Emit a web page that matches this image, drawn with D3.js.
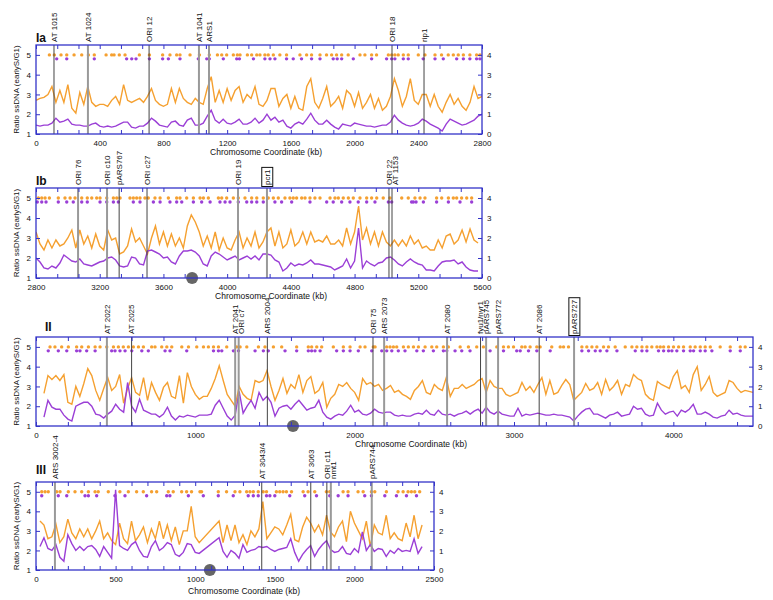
<!DOCTYPE html>
<html>
<head>
<meta charset="utf-8">
<script src="https://cdn.jsdelivr.net/npm/d3@7"></script>
<style>
  body { margin: 0; background: #fff; }
  text { font-family: "Liberation Sans", Arial, sans-serif; fill: #111; }
</style>
</head>
<body>
<svg id="chart" width="773" height="600"></svg>
<script>
// ---- data (kb coordinates, ratio values) ----
// traces are sampled every 25 kb, starting at the given kb; null = no data
const stepKb = 25;

const iaStart = 0;
const iaOrange = [
  2.7, 2.8, 2.85, 3.0, 3.4, 2.6, 3.2, 2.6,      // 0
  3.5, 2.3, 2.05, 3.1, 2.5, 3.4, 2.6, 2.4,      // 200
  2.5, 2.5, 2.4, 2.7, 2.9, 2.5, 3.5, 2.7,       // 400
  2.6, 2.7, 2.8, 2.6, 2.9, 3.3, 2.7, 2.5,       // 600
  2.4, 2.5, 3.3, 2.6, 3.3, 2.8, 2.6, 2.5,       // 800
  2.8, 2.6, 2.5, 3.3, 3.9, 2.6, 3.2, 2.6,       // 1000
  3.3, 2.7, 3.2, 3.4, 2.6, 3.0, 2.8, 3.4,       // 1200
  2.5, 2.4, 2.7, 3.3, 3.3, 2.4, 2.8, 3.0,       // 1400
  2.3, 2.9, 2.3, 2.2, 3.4, 3.8, 2.6, 2.3,       // 1600
  2.8, 3.4, 2.4, 2.6, 2.9, 2.3, 3.2, 3.0,       // 1800
  2.4, 3.1, 2.3, 2.6, 3.0, 2.3, 2.8, 2.2,       // 2000
  2.4, 2.9, 3.8, 3.2, 2.4, 2.9, 3.8, 2.7,       // 2200
  2.5, 3.0, 3.0, 2.4, 3.0, 2.4, 2.1, 2.6,       // 2400
  3.0, 2.5, 2.8, 2.4, 2.2, 2.6, 3.4, 2.8,       // 2600
  2.9
];
const iaPurple = [
  1.45, 1.4, 1.45, 1.45, 1.55, 1.8, 1.6, 1.65,
  1.75, 1.5, 1.45, 1.45, 1.4, 1.4, 1.5, 1.55,
  1.4, 1.35, 1.4, 1.35, 1.4, 1.5, 1.6, 1.6,
  1.35, 1.3, 1.4, 1.4, 1.55, 1.8, 1.65, 1.45,
  1.4, 1.35, 1.6, 1.65, 1.45, 1.4, 1.7, 1.8,
  1.45, 1.45, 1.55, 1.9, 2.2, 1.7, 1.55, 1.75,
  1.55, 1.5, 1.6, 1.75, 1.5, 1.5, 1.6, 1.8,
  1.55, 1.7, 2.0, 1.7, 1.85, 1.6, 1.7, 1.4,
  1.3, 1.5, 1.6, 1.5, 1.75, 2.05, 1.7, 1.5,
  1.5, 1.7, 1.5, 1.35, 1.25, 1.5, 1.45, 1.4,
  1.55, 1.5, 1.45, 1.4, 1.4, 1.35, 1.4, 1.45,
  1.45, 1.6, 1.95, 1.7, 1.55, 1.45, 1.4, 1.45,
  1.55, 1.75, 1.65, 1.5, 1.4, 1.3, 1.15, 1.5,
  1.75, 1.65, 1.55, 1.45, 1.5, 1.6, 1.7, 1.9,
  2.0
];

const ibStart = 2800;
const ibOrange = [
  3.3, 2.7, 2.4, 2.9, 2.5, 2.9, 2.6, 2.7,       // 2800
  3.0, 3.4, 2.5, 3.4, 2.7, 3.1, 2.5, 3.2,       // 3000
  2.6, 2.4, 3.4, 2.9, 3.0, 2.2, 2.3, 2.6,       // 3200
  3.45, 2.8, 3.0, 2.6, 2.2, 3.0, 3.6, 2.7,      // 3400
  3.3, 2.6, 3.2, 2.6, 3.0, 2.5, 3.6, 4.15,      // 3600
  3.8, 3.3, 2.6, 3.1, 2.5, 3.3, 2.4, 3.0,       // 3800
  2.5, 2.4, 2.9, 3.3, 2.5, 3.0, 2.6, 3.3,       // 4000
  2.5, 2.8, 3.3, 3.5, 2.6, 3.3, 2.5, 2.7,       // 4200
  3.4, 2.6, 2.8, 3.3, 2.7, 3.3, 2.8, 2.9,       // 4400
  2.8, 3.1, 2.7, 2.7, 2.9, 2.6, 3.5, 2.7,       // 4600
  3.3, 4.6, 2.9, 3.5, 2.7, 3.3, 2.6, 3.3,       // 4800
  2.8, 2.6, 2.9, 2.6, 2.9, 2.6, 3.1, 2.7,       // 5000
  2.9, 2.5, 2.6, 2.4, 2.4, 2.9, 2.5, 3.1,       // 5200
  3.2, 2.7, 2.9, 3.4, 2.8, 3.45, 2.9, 2.75      // 5400
];
const ibPurple = [
  2.0, 1.8, 1.5, 1.45, 1.6, 1.5, 1.75, 2.15,
  2.0, 1.85, 1.8, 1.95, 1.7, 1.65, 1.6, 1.7,
  1.8, 1.85, 2.0, 2.05, 1.9, 1.6, 1.55, 1.6,
  2.05, 2.0, 1.7, 1.65, 2.35, 2.4, 2.3, 2.2,
  2.0, 2.05, 1.8, 1.7, 2.1, 2.35, 2.35, 2.4,
  2.3, 2.1, 1.7, 1.6, 2.1, 2.3, 2.2, 2.05,
  1.9, 2.0, 2.1, 1.9, 2.0, 2.1, 1.95, 2.1,
  1.9, 2.2, 2.2, 2.15, 1.9, 1.8, 1.35, 1.5,
  1.75, 1.6, 1.7, 1.65, 1.75, 1.9, 1.7, 1.7,
  1.65, 1.6, 1.55, 1.4, 1.5, 1.6, 1.95, 1.5,
  1.85, 3.5, 1.5, 1.85, 1.7, 1.6, 1.75, 1.8,
  2.0, 2.05, 1.9, 1.7, 1.6, 1.8, 1.95, 1.8,
  1.7, 1.65, 1.4, 1.4, 1.35, 1.6, 1.8, 1.85,
  1.85, 1.9, 1.7, 1.8, 1.55, 1.4, 1.35, 1.35
];

const iiStart = 50;
const iiOrange = [
  2.65, 3.55, 3.35, 3.55, 3.3, 3.6, 2.2, 2.1,   // 50
  3.0, 2.5, 3.15, 3.9, 3.55, 2.8, 2.3, 2.9,     // 250
  3.45, 2.8, 3.0, 3.6, 2.15, 2.9, 3.45, 2.7,    // 450
  2.55, 3.45, 2.3, 3.2, 2.7, 2.3, 2.95, 3.2,    // 650
  2.5, 2.4, 3.55, 2.15, 3.7, 3.0, 2.6, 2.35,    // 850
  2.5, 2.5, 2.9, 3.4, 4.05, 3.3, 2.6, 2.3,      // 1050
  2.0, 3.0, 2.6, 2.4, 2.3, 3.3, 3.2, 3.3,       // 1250
  3.8, 3.0, 2.3, 2.8, 3.4, 2.65, 3.1, 2.9,      // 1450
  3.6, 2.7, 3.3, 3.5, 2.65, 2.8, 3.2, 1.95,     // 1650
  2.4, 2.6, 3.1, 3.0, 3.2, 2.9, 2.7, 2.3,       // 1850
  3.4, 3.1, 3.2, 3.0, 3.1, 2.8, 2.9, 3.05,      // 2050
  2.7, 2.8, 2.6, 2.5, 2.35, 2.8, 3.0, 3.3,      // 2250
  2.7, 2.6, 3.1, 2.9, 2.8, 3.45, 2.5, 2.9,      // 2450
  2.9, 3.1, 2.9, 3.0, 3.1, 3.3, 3.4, 2.7,       // 2650
  3.3, 3.0, 2.9, 2.9, 2.6, 2.5, 2.6, 2.7,       // 2850
  3.2, 2.8, 3.0, 2.7, 3.1, 3.45, 2.6, 3.3,      // 3050
  2.6, 2.7, 3.05, 3.35, 3.1, 2.3, 2.5, 2.7,     // 3250
  3.15, 2.8, 2.9, 3.2, 2.6, 3.35, 2.8, 3.0,     // 3450
  3.3, 2.6, 3.1, 3.0, 3.6, 3.4, 3.3, 2.6,       // 3650
  2.4, 2.3, 3.25, 3.1, 3.0, 2.9, 3.5, 3.8,      // 3850
  2.9, 3.05, 2.7, 3.6, 4.0, 2.8, 3.1, 3.5,      // 4050
  2.7, 2.5, 2.6, 2.7, 3.3, 3.2, 2.9, 2.7,       // 4250
  2.8, 2.75, 2.7                                // 4450
];
const iiPurple = [
  1.45, 2.3, 1.95, 1.85, 1.85, 1.55, 1.35, 1.25,
  2.0, 2.1, 2.2, 2.2, 2.0, 1.6, 1.55, 1.4,
  1.6, 1.75, 2.1, 1.85, 1.7, 3.2, 2.0, 1.7,
  2.35, 1.8, 1.7, 1.6, 1.6, 1.45, 1.6, 1.95,
  1.5, 1.3, 1.5, 1.45, 1.55, 1.5, 1.45, 1.55,
  1.55, 1.55, 1.6, 2.05, 2.3, 1.9, 1.5, 1.3,
  1.55, 2.75, 1.65, 2.0, 2.3, 1.9, 2.7, 2.3,
  2.5, 2.2, 1.5, 1.9, 2.0, 2.05, 1.85, 2.1,
  2.3, 2.05, 1.8, 1.9, 1.95, 2.3, 1.7, 1.45,
  1.35, 1.5, 1.6, 1.55, 1.75, 2.05, 1.7, 1.8,
  1.6, 1.55, 1.65, 1.85, 1.7, 1.65, 1.7, 1.7,
  1.55, 1.5, 1.55, 1.5, 1.5, 1.6, 1.65, 1.6,
  1.8, 1.6, 1.55, 1.8, 1.6, 1.55, 1.6, 1.5,
  1.6, 1.65, 1.75, 1.6, 1.75, 1.85, 1.65, 1.95,
  1.7, 1.6, 1.75, 1.6, 1.55, 1.5, 1.5, 1.9,
  1.5, 1.6, 1.55, 1.6, 1.65, 1.6, 1.55, 1.55,
  1.6, 1.55, 1.55, 1.5, 1.45, 1.25, 1.5, 1.7,
  1.85, 1.9, 1.6, 1.6, 1.5, 1.4, 1.55, 1.6,
  1.7, 1.5, 1.55, 1.6, 2.0, 1.85, 1.9, 1.6,
  1.5, 1.55, 2.15, 1.8, 1.6, 1.7, 1.75, 1.5,
  1.8, 1.7, 1.85, 2.1, 1.6, 1.6, 1.7, 1.6,
  1.45, 1.4, 1.5, 1.55, 1.8, 1.6, 1.65, 1.55,
  1.5, 1.5, 1.5
];

const iiiStart = 25;
const iiiOrange = [
  3.5, 3.3, 2.6, 2.7, 3.35, 2.4, 2.7, 3.6,      // 25
  2.9, 2.6, 3.1, 2.7, 3.1, 2.6, 3.0, 3.5,       // 225
  2.6, 2.9, 2.5, 2.3, 3.4, 2.6, 2.35, 3.5,      // 425
  2.5, 2.8, 3.2, 2.4, 3.1, 2.6, 3.5, 2.6,       // 625
  3.3, 2.5, 3.2, 2.3, 3.0, 3.0, 4.25, 2.7,      // 825
  2.4, null, null, null, null, 3.5, 2.4, 3.3,   // 1025
  2.5, 3.3, 2.4, 2.8, 2.3, 3.0, 2.7, 3.1,       // 1225
  4.5, 2.6, 2.9, 3.2, 3.1, 2.8, 3.3, 3.85,      // 1425
  2.55, 2.45, 3.2, 3.7, 3.4, 2.95, 3.3, 2.8,    // 1625
  3.8, 2.95, 2.7, 3.2, 3.5, 2.45, 4.0, 3.4,     // 1825
  3.0, 2.6, 3.5, 2.2, 3.3, 2.9, 2.8, 3.8,       // 2025
  2.6, 2.9, 2.6, 2.5, 3.4, 2.7, 3.8, 2.6,       // 2225
  3.3                                           // 2425
];
const iiiPurple = [
  2.2, 2.65, 2.1, 2.0, 2.3, 1.65, 1.45, 2.8,
  2.35, 2.0, 2.2, 2.0, 2.2, 2.25, 2.05, 1.7,
  2.2, 1.9, 1.6, 5.1, 2.25, 2.1, 2.0, 2.3,
  2.45, 2.0, 1.7, 1.65, 2.2, 2.5, 2.0, 2.15,
  2.4, 2.3, 1.8, 1.7, 1.9, 2.35, 2.3, 1.9,
  1.85, null, null, null, null, 2.65, 1.95, 1.65,
  2.0, 1.85, 1.6, 2.3, 1.9, 2.0, 2.05, 2.2,
  2.15, 2.2, 2.05, 1.95, 2.05, 2.1, 2.15, 2.6,
  1.9, 1.45, 1.8, 2.05, 2.25, 1.7, 2.05, 2.3,
  2.5, 2.05, 1.9, 1.95, 2.2, 1.85, 1.8, 2.1,
  1.9, 2.95, 2.0, 2.3, 1.95, 2.1, 2.05, 1.7,
  2.0, 1.85, 2.1, 1.95, 2.0, 1.95, 2.6, 1.85,
  2.2
];

// positions (kb) of the dot rows
const iaOrangeDots = [84,115,157,193,239,287,329,366,440,475,490,523,559,649,712,795,841,883,904,967,1026,1088,1139,1166,1197,1239,1264,1281,1327,1354,1386,1406,1437,1458,1490,1531,1573,1657,1699,1730,1783,1824,1856,1887,1919,1960,2034,2065,2107,2138,2212,2233,2253,2274,2306,2337,2400,2442,2505,2546,2588,2620,2651,2683,2724,2766,2787];
const iaPurpleDots = [130,193,366,569,601,628,712,795,831,904,1019,1072,1088,1176,1260,1277,1365,1437,1469,1500,1573,1615,1667,1730,1783,1866,1891,1919,1992,2107,2201,2233,2253,2306,2337,2431,2505,2557,2641,2683,2724,2766,2787];
const ibOrangeDots = [2815,2836,2857,2884,2940,2982,3014,3045,3087,3122,3150,3181,3202,3244,3286,3307,3328,3390,3411,3432,3453,3484,3505,3547,3579,3631,3683,3704,3746,3788,3830,3851,3882,3945,3966,3997,4039,4070,4112,4154,4186,4227,4258,4290,4321,4363,4394,4415,4436,4468,4489,4520,4551,4583,4646,4677,4698,4729,4761,4792,4834,4876,4907,4939,4980,5022,5096,5137,5179,5211,5242,5315,5347,5389,5420,5441,5472,5504,5535];
const ibPurpleDots = [2808,2836,2863,2940,2993,3034,3087,3122,3202,3244,3286,3317,3411,3453,3537,3579,3641,3683,3715,3788,3840,3893,3955,3987,4018,4070,4123,4154,4186,4227,4300,4342,4405,4520,4625,4666,4719,4771,4823,4876,4928,5012,5033,5158,5169,5186,5232,5315,5389,5462,5535];
const iiOrangeDots = [88,119,161,203,255,287,329,371,402,444,486,517,548,580,611,643,674,726,747,789,821,852,915,957,1009,1051,1082,1114,1145,1197,1260,1281,1323,1396,1437,1490,1542,1636,1709,1730,1762,1793,1866,1929,1971,2034,2065,2117,2128,2201,2222,2243,2264,2306,2337,2369,2400,2442,2484,2515,2557,2588,2662,2714,2766,2808,2892,2934,2965,2997,3049,3070,3101,3143,3164,3237,3290,3311,3342,3426,3457,3489,3520,3562,3593,3635,3698,3740,3771,3803,3834,3865,3897,3918,3939,3970,4001,4033,4064,4106,4137,4169,4200,4232,4294,4357,4420,4451];
const iiPurpleDots = [77,140,193,255,276,318,371,475,496,527,559,601,664,705,810,841,946,1114,1145,1166,1239,1271,1375,1427,1458,1563,1636,1709,1730,1751,1783,1887,1929,1971,2023,2107,2170,2201,2233,2274,2316,2390,2431,2494,2557,2578,2630,2672,2724,2850,2934,3017,3039,3091,3143,3227,3426,3468,3510,3541,3583,3646,3761,3803,3834,3907,3939,3970,3991,4022,4064,4106,4127,4169,4200,4242,4357,4420];
const iiiOrangeDots = [36,57,77,130,151,203,245,287,329,371,391,454,527,580,632,674,726,758,831,862,915,946,977,1030,1040,1145,1197,1250,1281,1323,1344,1365,1396,1427,1448,1510,1531,1552,1573,1605,1678,1709,1751,1824,1845,1929,1960,2023,2055,2107,2128,2201,2274,2306,2337,2358,2379,2410];
const iiiPurpleDots = [36,140,193,308,329,381,496,559,695,821,841,957,1051,1145,1239,1333,1365,1396,1448,1469,1500,1594,1688,1762,1845,1898,1960,2065,2107,2191,2264,2327,2390];

// annotated loci: [label, kb, kind]  kind "a" / "b", boxed labels separately
const iaMarks = [["AT 1015",113,"b"],["AT 1024",326,"a"],["ORI 12",710,"b"],["AT 1041",1023,"a"],["ARS1",1086,"a"],["ORI 18",2235,"b"],["rip1",2436,"b"]];
const ibMarks = [["ORI 76",3064,"a"],["ORI c10",3246,"a"],["pARS767",3322,"b"],["ORI c27",3497,"b"],["ORI 19",4068,"a"],["pcr1",4250,"a"],["ORI 22",5016,"b"],["AT 1153",5035,"b"]];
const iiMarks = [["AT 2022",445,"a"],["AT 2025",600,"b"],["AT 2041",1250,"a"],["ORI c7",1272,"a"],["ARS 2004",1452,"b"],["ORI 75",2115,"b"],["ARS 2073",2185,"a"],["AT 2080",2580,"a"],["fyu1/nyr1",2790,"b"],["pARS745",2825,"a"],["pARS772",2900,"a"],["AT 2086",3158,"b"],["pARS727",3377,"a"]];
const iiiMarks = [["ARS 3002-4",119,"a"],["AT 3043/4",1418,"b"],["AT 3063",1726,"b"],["ORI c11",1827,"b"],["nmt1",1852,"a"],["pARS744",2109,"a"]];
const boxedLabels = ["pcr1", "pARS727"];

// centromere positions (kb)
const ibCen = 3780, iiCen = 1613, iiiCen = 1092;

// x tick labels
const iaTicks = [0, 400, 800, 1200, 1600, 2000, 2400, 2800];
const ibTicks = [2800, 3200, 3600, 4000, 4400, 4800, 5200, 5600];
const iiTicks = [0, 1000, 2000, 3000, 4000];
const iiiTicks = [0, 500, 1000, 1500, 2000, 2500];

// ---- drawing ----
const orangeCol = "#f5a030", purpleCol = "#9b3fd6", frameCol = "#3434c8";
const svg = d3.select("#chart");

const panels = [
  { name: "Ia", domain: [0, 2800], right: 482, top: 45, bottom: 134, start: iaStart,
    orange: iaOrange, purple: iaPurple, oDots: iaOrangeDots, pDots: iaPurpleDots,
    marks: iaMarks, ticks: iaTicks, minor: 400 / 3, cen: null, titleX: 266, titleY: 155, nameX: 36, nameY: 45 },
  { name: "Ib", domain: [2800, 5600], right: 482, top: 188, bottom: 278, start: ibStart,
    orange: ibOrange, purple: ibPurple, oDots: ibOrangeDots, pDots: ibPurpleDots,
    marks: ibMarks, ticks: ibTicks, minor: 400 / 3, cen: ibCen, titleX: 271, titleY: 299, nameX: 36, nameY: 188 },
  { name: "II", domain: [0, 4500], right: 753, top: 337, bottom: 426, start: iiStart,
    orange: iiOrange, purple: iiPurple, oDots: iiOrangeDots, pDots: iiPurpleDots,
    marks: iiMarks, ticks: iiTicks, minor: 200, cen: iiCen, titleX: 411, titleY: 447, nameX: 45, nameY: 334 },
  { name: "III", domain: [0, 2500], right: 434, top: 482, bottom: 570, start: iiiStart,
    orange: iiiOrange, purple: iiiPurple, oDots: iiiOrangeDots, pDots: iiiPurpleDots,
    marks: iiiMarks, ticks: iiiTicks, minor: 100, cen: iiiCen, titleX: 244, titleY: 594, nameX: 36, nameY: 477 }
];

panels.forEach(function (p, pi) {
  const x = d3.scaleLinear().domain(p.domain).range([36, p.right]);
  const y = d3.scaleLinear().domain([1, 5.5]).range([p.bottom, p.top]);
  const yR = d3.scaleLinear().domain([0, 4.5]).range([p.bottom, p.top]);
  const g = svg.append("g");

  svg.append("clipPath").attr("id", "clip" + pi)
    .append("rect").attr("x", 36).attr("y", p.top)
    .attr("width", p.right - 36).attr("height", p.bottom - p.top);

  // traces
  const line = d3.line().x(d => x(d.kb)).y(d => y(d.v));
  function pts(vals) {
    return vals.map((v, i) => ({ kb: p.start + i * stepKb, v: v })).filter(d => d.v !== null);
  }
  g.append("path").datum(pts(p.orange)).attr("d", line)
    .attr("fill", "none").attr("stroke", orangeCol).attr("stroke-width", 1.4)
    .attr("clip-path", "url(#clip" + pi + ")");
  g.append("path").datum(pts(p.purple)).attr("d", line)
    .attr("fill", "none").attr("stroke", purpleCol).attr("stroke-width", 1.4)
    .attr("clip-path", "url(#clip" + pi + ")");

  // dot rows
  g.selectAll(".od").data(p.oDots).join("circle")
    .attr("cx", d => x(d)).attr("cy", y(5)).attr("r", 1.7).attr("fill", orangeCol);
  g.selectAll(".pd").data(p.pDots).join("circle")
    .attr("cx", d => x(d)).attr("cy", y(4.8)).attr("r", 1.7).attr("fill", purpleCol);

  // loci lines + labels
  let lastLx = -100;
  p.marks.forEach(function (m) {
    const mx = x(m[1]);
    const gray = m[2] === "a";
    g.append("line").attr("x1", mx).attr("x2", mx).attr("y1", p.top).attr("y2", p.bottom)
      .attr("stroke", gray ? "#999" : "#444").attr("stroke-width", gray ? 2 : 1);
    let lx = Math.max(mx, lastLx + 6);
    lastLx = lx;
    const t = g.append("text")
      .attr("transform", `translate(${lx},${p.top - 3}) rotate(-90)`)
      .attr("dy", "0.35em").attr("font-size", 8).text(m[0]);
    if (boxedLabels.includes(m[0])) {
      const bb = t.node().getBBox();
      g.append("rect")
        .attr("transform", `translate(${lx},${p.top - 3}) rotate(-90)`)
        .attr("x", bb.x - 1.5).attr("y", bb.y - 1).attr("width", bb.width + 3).attr("height", bb.height + 2)
        .attr("fill", "none").attr("stroke", "#111").attr("stroke-width", 1);
    }
  });

  // centromere
  if (p.cen !== null) {
    g.append("circle").attr("cx", x(p.cen)).attr("cy", p.bottom).attr("r", 6).attr("fill", "#666");
  }

  // frame
  g.append("rect").attr("x", 36).attr("y", p.top).attr("width", p.right - 36).attr("height", p.bottom - p.top)
    .attr("fill", "none").attr("stroke", frameCol).attr("stroke-width", 1.3);

  // axes
  const minorTicks = d3.range(p.domain[0], p.domain[1] + 1, p.minor);
  function style(ax) {
    ax.select(".domain").remove();
    ax.selectAll(".tick line").attr("stroke", frameCol);
    ax.selectAll("text").attr("font-size", 8).attr("fill", "#111")
      .attr("font-family", '"Liberation Sans", Arial, sans-serif');
  }
  g.append("g").attr("transform", `translate(0,${p.bottom})`)
    .call(d3.axisBottom(x).tickValues(minorTicks).tickSize(-4).tickFormat(""))
    .call(style);
  g.append("g").attr("transform", `translate(0,${p.top})`)
    .call(d3.axisTop(x).tickValues(minorTicks).tickSize(-4).tickFormat(""))
    .call(style);
  g.append("g").attr("transform", `translate(0,${p.bottom})`)
    .call(d3.axisBottom(x).tickValues(p.ticks).tickSize(0).tickPadding(6).tickFormat(d3.format("d")))
    .call(style);
  g.append("g").attr("transform", "translate(36,0)")
    .call(d3.axisLeft(y).tickValues([1, 2, 3, 4, 5]).tickSize(-4).tickPadding(5).tickFormat(d3.format("d")))
    .call(style);
  g.append("g").attr("transform", `translate(${p.right},0)`)
    .call(d3.axisRight(yR).tickValues([0, 1, 2, 3, 4]).tickSize(-4).tickPadding(5).tickFormat(d3.format("d")))
    .call(style);

  // titles
  g.append("text").attr("x", p.nameX).attr("y", p.nameY - 3)
    .attr("font-size", 12).attr("font-weight", "bold").text(p.name);
  g.append("text").attr("x", p.titleX).attr("y", p.titleY).attr("text-anchor", "middle")
    .attr("font-size", 8.5).text("Chromosome Coordinate (kb)");
  g.append("text")
    .attr("transform", `translate(19,${(p.top + p.bottom) / 2}) rotate(-90)`)
    .attr("text-anchor", "middle").attr("font-size", 8).text("Ratio ssDNA (earlyS/G1)");
});
</script>
</body>
</html>
